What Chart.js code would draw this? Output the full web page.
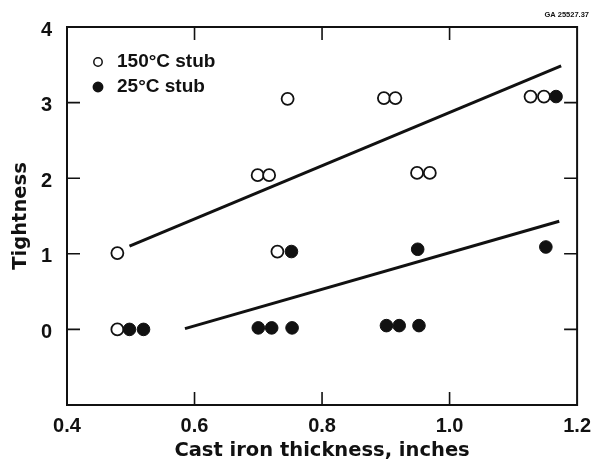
<!DOCTYPE html>
<html>
<head>
<meta charset="utf-8">
<script src="https://cdn.jsdelivr.net/npm/chart.js@4.4.1/dist/chart.umd.min.js"></script>
<style>
  html, body { margin: 0; padding: 0; background: #fff; }
</style>
</head>
<body>
<canvas id="tightChart" width="600" height="465"></canvas>
<script>
// 150°C stub measurements
const hotX = [0.479, 0.479, 0.699, 0.717, 0.730, 0.746, 0.897, 0.915, 0.949, 0.969, 1.127, 1.148];
const hotY = [1.01, 0.00, 2.04, 2.04, 1.03, 3.05, 3.06, 3.06, 2.07, 2.07, 3.08, 3.08];

// 25°C stub measurements
const coldX = [0.498, 0.520, 0.700, 0.721, 0.753, 0.752, 0.901, 0.921, 0.952, 0.950, 1.151, 1.167];
const coldY = [0.00, 0.00, 0.02, 0.02, 0.02, 1.03, 0.05, 0.05, 0.05, 1.06, 1.09, 3.08];

// fitted trend lines (end points)
const hotFitX = [0.498, 1.175];
const hotFitY = [1.10, 3.485];
const coldFitX = [0.585, 1.172];
const coldFitY = [0.01, 1.43];

const seriesLabels = ['150°C stub', '25°C stub'];

const xTickValues = [0.4, 0.6, 0.8, 1.0, 1.2];
const xTickLabels = ['0.4', '0.6', '0.8', '1.0', '1.2'];
const yTickValues = [-1, 0, 1, 2, 3, 4];
const yTickLabels = ['', '0', '1', '2', '3', '4'];

const figureTag = 'GA 25527.37';

const toPoints = (xs, ys) => xs.map((x, i) => ({ x, y: ys[i] }));

// frame, inward tick marks, in-plot legend and the figure tag
const framePlugin = {
  id: 'framePlugin',
  beforeDatasetsDraw(chart) {
    const { ctx, chartArea: a } = chart;
    ctx.save();
    ctx.strokeStyle = '#111';
    ctx.lineWidth = 2;
    ctx.strokeRect(a.left, a.top, a.right - a.left, a.bottom - a.top);

    const len = 13;
    ctx.lineWidth = 1.6;
    const xs = chart.scales.x, ys = chart.scales.y;
    ctx.beginPath();
    xTickValues.filter(v => v > xs.min && v < xs.max).forEach(v => {
      const px = xs.getPixelForValue(v);
      ctx.moveTo(px, a.bottom); ctx.lineTo(px, a.bottom - len);
      ctx.moveTo(px, a.top); ctx.lineTo(px, a.top + len);
    });
    yTickValues.filter(v => v > ys.min && v < ys.max).forEach(v => {
      const py = ys.getPixelForValue(v);
      ctx.moveTo(a.left, py); ctx.lineTo(a.left + len, py);
      ctx.moveTo(a.right, py); ctx.lineTo(a.right - len, py);
    });
    ctx.stroke();
    ctx.restore();
  },
  afterDraw(chart) {
    const { ctx } = chart;
    ctx.save();
    ctx.fillStyle = '#111';
    ctx.strokeStyle = '#111';
    ctx.textBaseline = 'middle';
    ctx.font = 'bold 19px "Liberation Sans", Arial, sans-serif';
    const rows = [62, 87];
    [0, 1].forEach(i => {
      const ds = chart.data.datasets[i];
      ctx.beginPath();
      ctx.arc(98, rows[i], i === 0 ? 4.2 : 4.7, 0, Math.PI * 2);
      ctx.fillStyle = ds.backgroundColor;
      ctx.fill();
      ctx.lineWidth = 1.5;
      ctx.stroke();
      ctx.fillStyle = '#111';
      ctx.fillText(ds.label, 117, rows[i]);
    });
    ctx.font = 'bold 7.5px "Liberation Sans", Arial, sans-serif';
    ctx.textAlign = 'right';
    ctx.fillText(figureTag, 589, 15);
    ctx.restore();
  }
};

new Chart(document.getElementById('tightChart'), {
  type: 'scatter',
  data: {
    datasets: [
      {
        label: seriesLabels[0],
        data: toPoints(hotX, hotY),
        backgroundColor: '#fff',
        borderColor: '#111',
        borderWidth: 1.8,
        pointRadius: 6,
        order: 1
      },
      {
        label: seriesLabels[1],
        data: toPoints(coldX, coldY),
        backgroundColor: '#111',
        borderColor: '#111',
        borderWidth: 1,
        pointRadius: 6.3,
        order: 0
      },
      {
        label: 'fit150',
        data: toPoints(hotFitX, hotFitY),
        showLine: true,
        borderColor: '#111',
        borderWidth: 3,
        pointRadius: 0,
        order: 2
      },
      {
        label: 'fit25',
        data: toPoints(coldFitX, coldFitY),
        showLine: true,
        borderColor: '#111',
        borderWidth: 3,
        pointRadius: 0,
        order: 2
      }
    ]
  },
  options: {
    responsive: false,
    animation: false,
    devicePixelRatio: 1,
    layout: { padding: { left: 0, top: 27, right: 14, bottom: 0 } },
    plugins: {
      legend: { display: false },
      tooltip: { enabled: false }
    },
    scales: {
      x: {
        type: 'linear',
        min: 0.4,
        max: 1.2,
        afterBuildTicks: s => { s.ticks = xTickValues.map(v => ({ value: v })); },
        afterFit: s => { s.height = 60; },
        grid: { display: false, drawTicks: false },
        border: { display: false },
        ticks: {
          padding: 9,
          color: '#111',
          font: { family: '"Liberation Sans", Arial, sans-serif', size: 20, weight: 'bold' },
          callback: (v, i) => xTickLabels[i]
        },
        title: {
          display: true,
          text: 'Cast iron thickness, inches',
          color: '#111',
          padding: { top: 0, bottom: 2 },
          font: { family: '"DejaVu Sans", sans-serif', size: 19.5, weight: 'bold' }
        }
      },
      y: {
        type: 'linear',
        min: -1,
        max: 4,
        afterBuildTicks: s => { s.ticks = yTickValues.map(v => ({ value: v })); },
        afterFit: s => { s.width = 67; },
        grid: { display: false, drawTicks: false },
        border: { display: false },
        ticks: {
          padding: 15,
          labelOffset: 3,
          color: '#111',
          font: { family: '"Liberation Sans", Arial, sans-serif', size: 20, weight: 'bold' },
          callback: (v, i) => yTickLabels[i]
        },
        title: {
          display: true,
          text: 'Tightness',
          color: '#111',
          padding: { top: 9, bottom: 0 },
          font: { family: '"DejaVu Sans", sans-serif', size: 19.5, weight: 'bold' }
        }
      }
    }
  },
  plugins: [framePlugin]
});
</script>
</body>
</html>
